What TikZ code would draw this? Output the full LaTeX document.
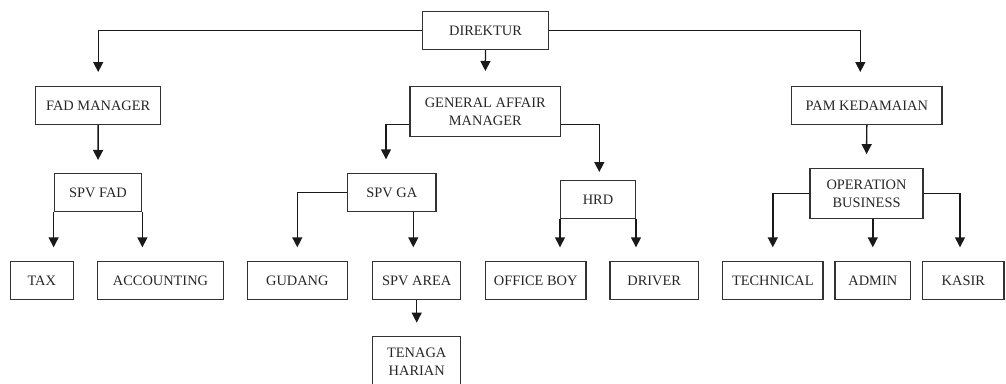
\documentclass[tikz,border=0pt]{standalone}
\usepackage{fontspec}
\setmainfont{Liberation Serif}
\usetikzlibrary{arrows.meta}
\begin{document}
\begin{tikzpicture}[x=1pt,y=-1pt,
  box/.style={draw=black!80,line width=1.4pt,inner sep=0pt,align=center,
    font=\fontsize{14.4}{18}\selectfont,text=black!85},
  conn/.style={draw=black!90,line width=1.4pt,-{Triangle[length=10pt,width=10pt]}}]
\clip (0,0) rectangle (1006,383);
% top
\node[box,minimum width=125.6pt,minimum height=37.6pt] (dir) at (485.5,30.5) {DIREKTUR};
% level 2
\node[box,minimum width=125pt,minimum height=37.6pt] (fad) at (98.2,105.5) {FAD MANAGER};
\node[box,minimum width=150.7pt,minimum height=50pt] (gam) at (485.3,111.7) {GENERAL AFFAIR\\MANAGER};
\node[box,minimum width=150.3pt,minimum height=37.6pt] (pam) at (866.8,105.5) {PAM KEDAMAIAN};
% level 3
\node[box,minimum width=87.4pt,minimum height=38pt] (spvfad) at (98,192.7) {SPV FAD};
\node[box,minimum width=88.3pt,minimum height=38pt] (spvga) at (391.8,192.7) {SPV GA};
\node[box,minimum width=74.6pt,minimum height=38pt] (hrd) at (598,199.3) {HRD};
\node[box,minimum width=113pt,minimum height=50pt] (ob) at (866.5,193.3) {OPERATION\\BUSINESS};
% level 4
\node[box,minimum width=63pt,minimum height=38pt] (tax) at (41.8,280.7) {TAX};
\node[box,minimum width=125.6pt,minimum height=38pt] (acc) at (160.5,280.7) {ACCOUNTING};
\node[box,minimum width=100pt,minimum height=38pt] (gud) at (297.3,280.7) {GUDANG};
\node[box,minimum width=88pt,minimum height=38pt] (spvarea) at (416.7,280.7) {SPV AREA};
\node[box,minimum width=100.7pt,minimum height=38pt] (boy) at (535.7,280.7) {OFFICE BOY};
\node[box,minimum width=88.3pt,minimum height=38pt] (drv) at (654.2,280.7) {DRIVER};
\node[box,minimum width=100.3pt,minimum height=38pt] (tech) at (772.8,280.7) {TECHNICAL};
\node[box,minimum width=75.7pt,minimum height=38pt] (adm) at (872.8,280.7) {ADMIN};
\node[box,minimum width=81.3pt,minimum height=38pt] (kas) at (963.3,280.7) {KASIR};
% level 5
\node[box,minimum width=88pt,minimum height=50pt] (ten) at (416.7,361.5) {TENAGA\\HARIAN};
% connectors
\draw[conn,shorten >=14pt] (dir.west) -| (fad.north);
\draw[conn,shorten >=14pt] (dir.east) -| ([xshift=-6.5pt]pam.north);
\draw[conn,shorten >=15pt] (dir.south) -- (gam.north);
\draw[conn,shorten >=13pt] (fad.south) -- (spvfad.north);
\draw[conn,shorten >=13.5pt] (pam.south) -- (ob.north);
\draw[conn,shorten >=13.7pt] ([yshift=-12.7pt]gam.west) -| ([xshift=-5.8pt]spvga.north);
\draw[conn,shorten >=7.6pt] ([yshift=-12.7pt]gam.east) -| ([xshift=1.3pt]hrd.north);
\draw[conn,shorten >=13.7pt] (spvfad.south west) -- (spvfad.south west |- tax.north);
\draw[conn,shorten >=13.7pt] (spvfad.south east) -- (spvfad.south east |- acc.north);
\draw[conn,shorten >=13.7pt] (spvga.west) -| (gud.north);
\draw[conn,shorten >=13.7pt] ([xshift=21.5pt]spvga.south) -- ([xshift=21.5pt]spvga.south |- spvarea.north);
\draw[conn,shorten >=13.2pt] (spvarea.south) -- (ten.north);
\draw[conn,shorten >=13.7pt] (hrd.south west) -- (hrd.south west |- boy.north);
\draw[conn,shorten >=13.7pt] (hrd.south east) -- (hrd.south east |- drv.north);
\draw[conn,shorten >=13.7pt] (ob.west) -| (tech.north);
\draw[conn,shorten >=13.7pt] (ob.east) -| ([xshift=-3.3pt]kas.north);
\draw[conn,shorten >=13.7pt] (ob.south -| adm.north) -- (adm.north);
\end{tikzpicture}
\end{document}
